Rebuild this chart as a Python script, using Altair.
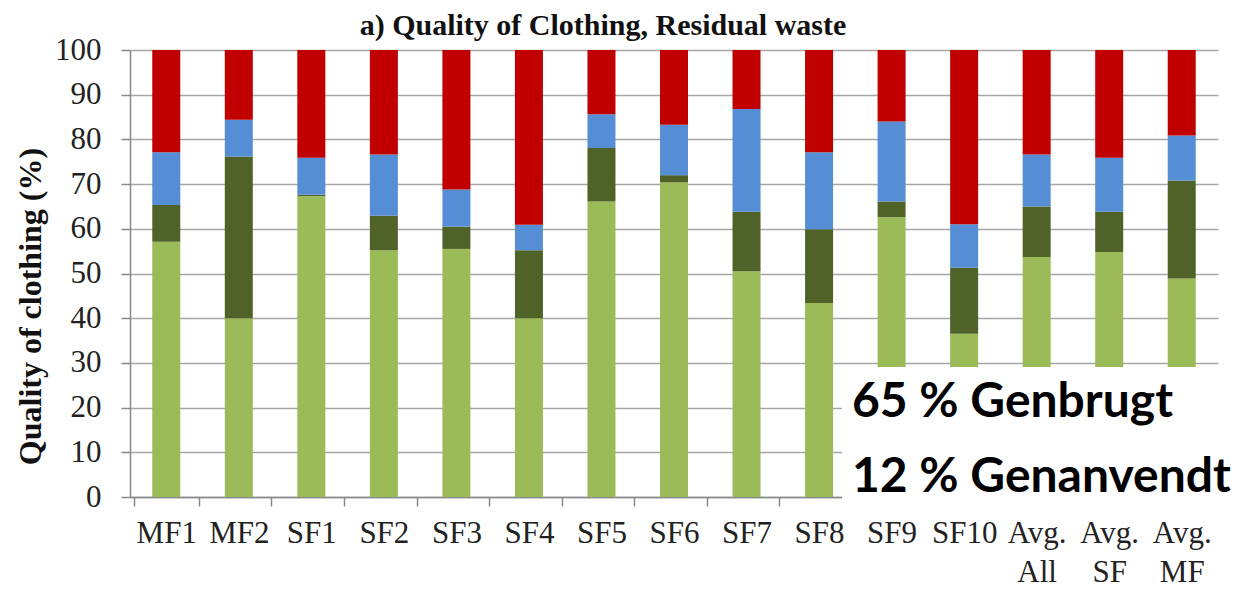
import altair as alt
import pandas as pd

categories = ["MF1", "MF2", "SF1", "SF2", "SF3", "SF4", "SF5", "SF6", "SF7", "SF8",
              "SF9", "SF10", "Avg.|All", "Avg.|SF", "Avg.|MF"]
series = ["Light green", "Dark green", "Blue", "Red"]

# cumulative tops of each segment (%)
light_top = [57.1, 40.0, 67.3, 55.2, 55.5, 40.0, 66.1, 70.4, 50.5, 43.4, 62.6, 36.5, 53.7, 54.8, 48.9]
dark_top  = [65.3, 76.2, 67.6, 62.9, 60.5, 55.2, 78.1, 72.0, 63.8, 59.9, 66.1, 51.3, 65.0, 63.8, 70.8]
blue_top  = [77.1, 84.4, 75.9, 76.6, 68.8, 60.9, 85.6, 83.3, 86.8, 77.1, 84.0, 61.0, 76.6, 75.9, 80.9]
red_top   = [100] * 15

colors = ["#9BBB59", "#4F6228", "#558ED5", "#C00000"]

title_text = "a) Quality of Clothing, Residual waste"
y_title = "Quality of clothing (%)"
notes = ["65 % Genbrugt", "12 % Genanvendt"]

rows = []
for i, c in enumerate(categories):
    tops = [light_top[i], dark_top[i], blue_top[i], red_top[i]]
    prev = 0
    for k, s in enumerate(series):
        rows.append({"cat": c, "series": s, "value": round(tops[k] - prev, 2), "ord": k})
        prev = tops[k]
df = pd.DataFrame(rows)

serif = "Liberation Serif"

bars = alt.Chart(df).mark_bar(size=28).encode(
    x=alt.X("cat:N", sort=categories, title=None,
            axis=alt.Axis(labelAngle=0, labelExpr="split(datum.label, '|')",
                          labelFont=serif, labelFontSize=31, labelColor="#222",
                          labelLineHeight=39, labelPadding=12, labelBaseline="top",
                          tickBand="extent", tickSize=9, tickColor="#888",
                          domainColor="#888", domainWidth=1.5, tickWidth=1.5,
                          grid=False)),
    y=alt.Y("value:Q", stack="zero", scale=alt.Scale(domain=[0, 100]),
            title=y_title,
            axis=alt.Axis(values=list(range(0, 101, 10)), labelFont=serif,
                          labelFontSize=31, labelColor="#222", labelPadding=20,
                          tickSize=9, tickColor="#888", tickWidth=1.5,
                          domainColor="#888", domainWidth=1.5,
                          gridColor="#A6A6A6", gridWidth=1.5,
                          titleFont=serif, titleFontSize=32, titleFontWeight="bold",
                          titleColor="#111", titleX=-100, titleY=256,
                          titleAngle=-90, titleAlign="center", titleBaseline="middle")),
    color=alt.Color("series:N", sort=series,
                    scale=alt.Scale(domain=series, range=colors), legend=None),
    order=alt.Order("ord:Q"),
)

title_mark = alt.Chart(pd.DataFrame({"t": [title_text]})).mark_text(
    font=serif, fontSize=30, fontWeight="bold", color="#111",
    align="center", baseline="alphabetic"
).encode(text="t:N", x=alt.value(473), y=alt.value(-15))

annot_box = alt.Chart(pd.DataFrame({"a": [0]})).mark_rect(color="white").encode(
    x=alt.value(712), x2=alt.value(1120), y=alt.value(317), y2=alt.value(457)
)

note_df = pd.DataFrame({"text": notes, "line": [0, 1]})
note_text = alt.Chart(note_df).mark_text(
    font="Lato", fontWeight="bold", fontSize=48, align="left", baseline="alphabetic",
    color="black"
).encode(
    text="text:N",
    x=alt.value(722),
    y=alt.Y("line:Q", scale=alt.Scale(domain=[0, 1], range=[367, 442]), axis=None),
)

chart = alt.layer(bars, title_mark, annot_box, note_text).resolve_scale(
    y="independent"
).properties(
    width=1088, height=447,
    padding={"left": 122, "top": 42, "right": 18, "bottom": 92},
    autosize=alt.AutoSizeParams(type="none"),
).configure_view(stroke=None)

chart.save("out.html", embed_options={"renderer": "svg", "actions": False})
